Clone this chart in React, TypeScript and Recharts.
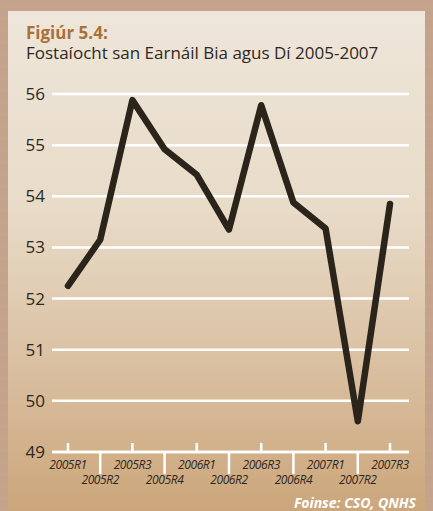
import React from 'react';
import { LineChart, Line, XAxis, YAxis, CartesianGrid } from 'recharts';

const quarters = [
  '2005R1', '2005R2', '2005R3', '2005R4',
  '2006R1', '2006R2', '2006R3', '2006R4',
  '2007R1', '2007R2', '2007R3',
];
const employment = [52.25, 53.15, 55.88, 54.92, 54.42, 53.35, 55.78, 53.88, 53.37, 49.6, 53.85];
const yTicks = [49, 50, 51, 52, 53, 54, 55, 56];

const data = quarters.map((q, i) => ({ q, value: employment[i] }));

const XTick = (props: any) => {
  const { x, y, payload, index } = props;
  const up = index % 2 === 0;
  const axisY = y - 8;
  return (
    <g>
      {up ? (
        <line x1={x} x2={x} y1={axisY - 9} y2={axisY} stroke="#ffffff" strokeWidth={2.5} />
      ) : (
        <line x1={x} x2={x} y1={axisY} y2={axisY + 22} stroke="#ffffff" strokeWidth={2.5} />
      )}
      <text
        x={x}
        y={up ? axisY + 17 : axisY + 32}
        textAnchor="middle"
        fill="#2d2822"
        fontSize={12}
        fontStyle="italic"
        letterSpacing={-0.4}
        fontFamily="'Open Sans', sans-serif"
      >
        {payload.value}
      </text>
    </g>
  );
};

const YTick = (props: any) => {
  const { y, payload } = props;
  return (
    <text
      x={45}
      y={y + 6}
      textAnchor="end"
      fill="#2d2822"
      fontSize={17}
      fontFamily="'Open Sans', sans-serif"
    >
      {payload.value}
    </text>
  );
};

export default function App() {
  return (
    <div
      style={{
        position: 'fixed',
        left: 0,
        top: 0,
        width: 433,
        height: 511,
        overflow: 'hidden',
        background:
          'repeating-linear-gradient(0deg, rgba(214,168,120,0.35) 0 1px, transparent 1px 12px), #c4a38c',
        fontFamily: "'Open Sans', sans-serif",
      }}
    >
      <div
        style={{
          position: 'absolute',
          left: 8,
          top: 11,
          width: 417,
          height: 500,
          background: 'linear-gradient(180deg, #eee6da 0%, #e8dbc8 40%, #cca67b 100%)',
        }}
      />
      <div
        style={{
          position: 'absolute',
          left: 26,
          top: 24,
          fontSize: 17,
          fontWeight: 700,
          color: '#a9703a',
          lineHeight: '18px',
        }}
      >
        Figiúr 5.4:
      </div>
      <div
        style={{
          position: 'absolute',
          left: 26,
          top: 42,
          fontSize: 17,
          color: '#2d2822',
          lineHeight: '21px',
          whiteSpace: 'nowrap',
        }}
      >
        Fostaíocht san Earnáil Bia agus Dí 2005-2007
      </div>
      <div style={{ position: 'absolute', left: 0, top: 0 }}>
        <LineChart
          width={433}
          height={511}
          data={data}
          margin={{ top: 94, right: 24, bottom: 0, left: 0 }}
        >
          <CartesianGrid vertical={false} stroke="#ffffff" strokeWidth={2.5} />
          <XAxis
            dataKey="q"
            interval={0}
            padding={{ left: 16, right: 19 }}
            axisLine={{ stroke: '#ffffff', strokeWidth: 2.5 }}
            tickLine={false}
            tick={<XTick />}
            height={59}
          />
          <YAxis
            domain={[49, 56]}
            ticks={yTicks}
            width={52}
            axisLine={false}
            tickLine={false}
            tick={<YTick />}
          />
          <Line
            type="linear"
            dataKey="value"
            stroke="#2b241a"
            strokeWidth={6.5}
            strokeLinecap="round"
            strokeLinejoin="round"
            dot={false}
            isAnimationActive={false}
          />
        </LineChart>
      </div>
      <div
        style={{
          position: 'absolute',
          right: 17,
          top: 494,
          fontSize: 14,
          fontWeight: 700,
          fontStyle: 'italic',
          color: '#ffffff',
          lineHeight: '18px',
        }}
      >
        Foinse: CSO, QNHS
      </div>
    </div>
  );
}
